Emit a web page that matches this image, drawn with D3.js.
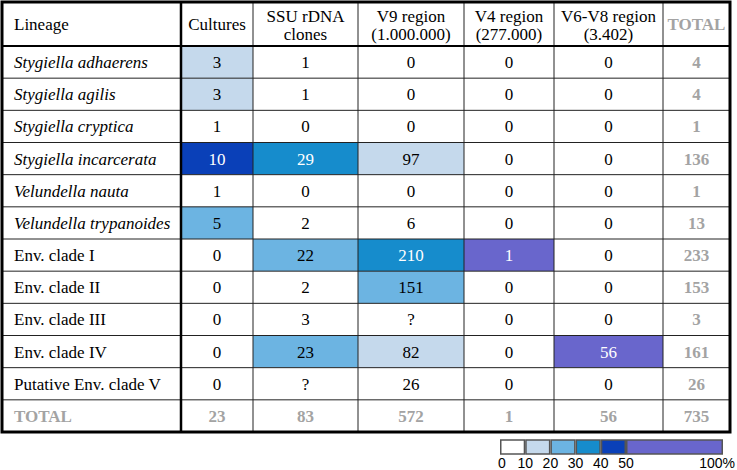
<!DOCTYPE html>
<html>
<head>
<meta charset="utf-8">
<script src="https://cdn.jsdelivr.net/npm/d3@7"></script>
<style>
body { margin: 0; background: #fff; }
.serif { font-family: 'Liberation Serif', 'Times New Roman', 'DejaVu Serif', serif; font-size: 17px; }
.sans { font-family: 'Liberation Sans', Arial, 'DejaVu Sans', sans-serif; font-size: 14px; }
</style>
</head>
<body>
<div class="table-container"></div>
<script>
// Data
const lineages = ['Stygiella adhaerens', 'Stygiella agilis', 'Stygiella cryptica', 'Stygiella incarcerata',
    'Velundella nauta', 'Velundella trypanoides', 'Env. clade I', 'Env. clade II', 'Env. clade III',
    'Env. clade IV', 'Putative Env. clade V']
const italicCount = 6
const headers = [['Lineage'], ['Cultures'], ['SSU rDNA', 'clones'], ['V9 region', '(1.000.000)'],
    ['V4 region', '(277.000)'], ['V6-V8 region', '(3.402)'], ['TOTAL']]
const cultures = [3, 3, 1, 10, 1, 5, 0, 0, 0, 0, 0]
const ssuClones = [1, 1, 0, 29, 0, 2, 22, 2, 3, 23, null]
const v9Region = [0, 0, 0, 97, 0, 6, 210, 151, null, 82, 26]
const v4Region = [0, 0, 0, 0, 0, 0, 1, 0, 0, 0, 0]
const v6v8Region = [0, 0, 0, 0, 0, 0, 0, 0, 0, 56, 0]
const legendBreaks = [0, 10, 20, 30, 40, 50, 100]
const legendColors = ['#ffffff', '#c5d9ec', '#6cb4e2', '#168ccc', '#0a40b8', '#6966cc']

const series = [cultures, ssuClones, v9Region, v4Region, v6v8Region]

let dimensions = {
    width: 737,
    height: 470,
    table: { left: 2, top: 2, right: 730, bottom: 432, header: 46 },
    colWidths: [179, 72, 105, 106, 90, 109, 67]
}

const svg = d3.select('.table-container')
    .append('svg')
    .attr('width', dimensions.width)
    .attr('height', dimensions.height)
    .style('display', 'block')

const t = dimensions.table
const colEdges = [t.left, ...d3.cumsum(dimensions.colWidths).map(d => d + t.left)]
const rowNames = [...lineages, 'TOTAL']

const yScale = d3.scaleBand()
    .domain(rowNames)
    .range([t.header, t.bottom])

const colorScale = d3.scaleThreshold()
    .domain([0.1, 0.2, 0.3, 0.4, 0.5])
    .range(legendColors)

const colTotals = series.map(s => d3.sum(s))
const rowTotals = lineages.map((d, i) => d3.sum(series, s => s[i]))
const grandTotal = d3.sum(colTotals)

// cell list
const cells = []
lineages.forEach((name, i) => {
    series.forEach((s, j) => {
        cells.push({ row: name, col: j + 1, value: s[i], share: s[i] == null ? 0 : s[i] / colTotals[j] })
    })
    cells.push({ row: name, col: 6, value: rowTotals[i], total: true })
})
colTotals.forEach((v, j) => cells.push({ row: 'TOTAL', col: j + 1, value: v, total: true }))
cells.push({ row: 'TOTAL', col: 6, value: grandTotal, total: true })

// fills
svg.selectAll('rect.cell')
    .data(cells.filter(d => !d.total))
    .join('rect')
    .attr('class', 'cell')
    .attr('x', d => colEdges[d.col])
    .attr('y', d => yScale(d.row))
    .attr('width', d => colEdges[d.col + 1] - colEdges[d.col])
    .attr('height', yScale.bandwidth())
    .attr('fill', d => colorScale(d.share))

// grid lines
const grid = svg.append('g').attr('stroke', '#222').attr('stroke-width', 1)
rowNames.slice(1).forEach(r => {
    grid.append('line')
        .attr('x1', t.left).attr('x2', t.right)
        .attr('y1', yScale(r)).attr('y2', yScale(r))
})
colEdges.slice(2, -1).forEach(x => {
    grid.append('line')
        .attr('x1', x).attr('x2', x)
        .attr('y1', t.top).attr('y2', t.bottom)
})
svg.append('line')
    .attr('x1', t.left).attr('x2', t.right)
    .attr('y1', t.header).attr('y2', t.header)
    .attr('stroke', '#000').attr('stroke-width', 2)
svg.append('line')
    .attr('x1', colEdges[1]).attr('x2', colEdges[1])
    .attr('y1', t.top).attr('y2', t.bottom)
    .attr('stroke', '#000').attr('stroke-width', 2.5)
svg.append('rect')
    .attr('x', t.left).attr('y', t.top)
    .attr('width', t.right - t.left).attr('height', t.bottom - t.top)
    .attr('fill', 'none').attr('stroke', '#000').attr('stroke-width', 3)

// Header text
headers.forEach((lines, j) => {
    const cx = j === 0 ? 14 : (colEdges[j] + colEdges[j + 1]) / 2
    const txt = svg.append('text')
        .attr('class', 'serif')
        .attr('text-anchor', j === 0 ? 'start' : 'middle')
        .attr('fill', j === 6 ? '#a3a3a3' : '#000')
        .attr('font-weight', j === 6 ? 'bold' : 'normal')
    lines.forEach((l, k) => {
        txt.append('tspan')
            .attr('x', cx)
            .attr('y', lines.length === 1 ? 30 : 22 + k * 18)
            .text(l)
    })
})

// Row labels
svg.selectAll('text.row-label')
    .data(rowNames)
    .join('text')
    .attr('class', 'row-label serif')
    .attr('x', 14)
    .attr('y', d => yScale(d) + yScale.bandwidth() / 2)
    .attr('dy', '0.35em')
    .attr('font-style', (d, i) => i < italicCount ? 'italic' : 'normal')
    .attr('font-weight', d => d === 'TOTAL' ? 'bold' : 'normal')
    .attr('fill', d => d === 'TOTAL' ? '#a3a3a3' : '#000')
    .text(d => d)

// Cell values
svg.selectAll('text.value')
    .data(cells)
    .join('text')
    .attr('class', 'value serif')
    .attr('x', d => (colEdges[d.col] + colEdges[d.col + 1]) / 2)
    .attr('y', d => yScale(d.row) + yScale.bandwidth() / 2)
    .attr('dy', '0.35em')
    .attr('text-anchor', 'middle')
    .attr('font-weight', d => d.total ? 'bold' : 'normal')
    .attr('fill', d => d.total ? '#a3a3a3' : (d.share >= 0.3 ? '#fff' : '#000'))
    .text(d => d.value == null ? '?' : d.value)

// Legend
const legendX = d3.scaleLinear()
    .domain([0, 50, 100])
    .range([500, 626, 723])

svg.selectAll('rect.legend')
    .data(d3.pairs(legendBreaks))
    .join('rect')
    .attr('class', 'legend')
    .attr('x', d => legendX(d[0]) + 0.75)
    .attr('y', 440)
    .attr('width', d => legendX(d[1]) - legendX(d[0]) - 1.5)
    .attr('height', 14)
    .attr('fill', (d, i) => legendColors[i])
    .attr('stroke', '#555')
    .attr('stroke-width', 1.5)

svg.selectAll('text.legend-label')
    .data(legendBreaks)
    .join('text')
    .attr('class', 'legend-label sans')
    .attr('x', (d, i) => i === 0 ? legendX(d) + 2 : (d === 100 ? 735 : legendX(d)))
    .attr('y', 468)
    .attr('text-anchor', d => d === 100 ? 'end' : 'middle')
    .attr('fill', '#000')
    .text(d => d === 100 ? '100%' : d)
</script>
</body>
</html>
